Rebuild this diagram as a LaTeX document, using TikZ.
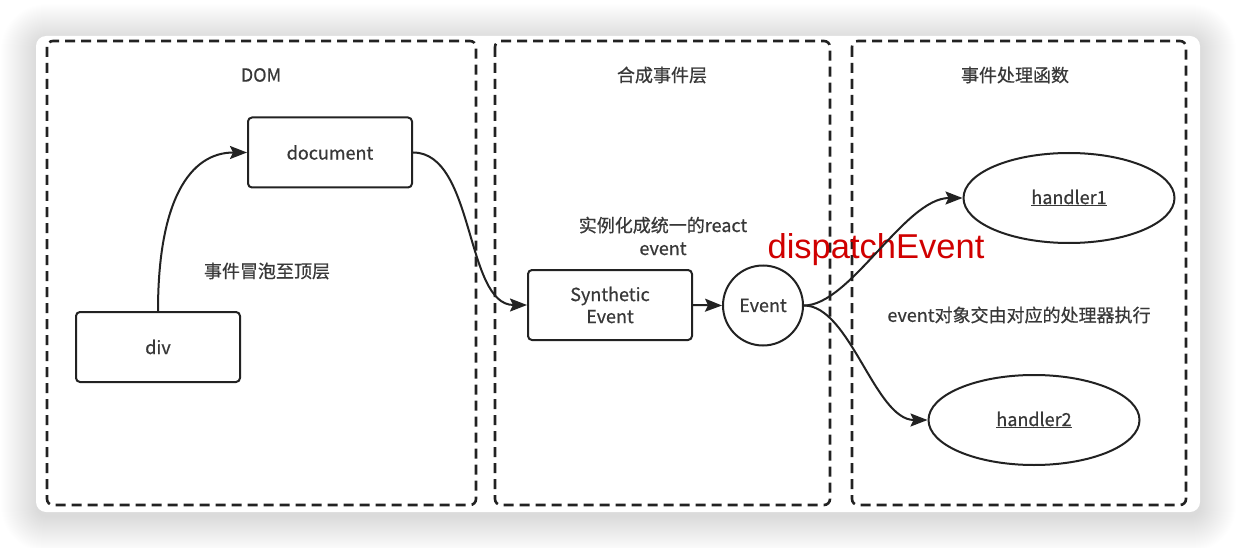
\documentclass[tikz,border=0pt]{standalone}
\usepackage{fontspec}
\setmainfont{Noto Sans CJK SC}[FakeBold=0.6]
\newfontfamily\redfont{Liberation Sans}
\usetikzlibrary{arrows.meta,shapes.geometric}
\definecolor{txt}{HTML}{383838}
\definecolor{ln}{HTML}{222222}
\definecolor{redc}{HTML}{D00000}
\begin{document}
\begin{tikzpicture}[x=1pt,y=-1pt,
  lbl/.style={text=txt,font=\fontsize{18}{23}\selectfont,align=center,inner sep=0pt},
  box/.style={draw=ln,line width=2pt,rounded corners=4pt,minimum width=164pt,minimum height=70pt,
    text=txt,font=\fontsize{18}{22}\selectfont,align=center,inner sep=0pt},
  ell/.style={ellipse,draw=ln,line width=2pt,minimum width=211pt,minimum height=90pt,
    text=txt,font=\fontsize{18}{22}\selectfont,inner sep=0pt},
  circ/.style={circle,draw=ln,line width=2pt,minimum size=80pt,
    text=txt,font=\fontsize{18}{22}\selectfont,inner sep=0pt},
  zone/.style={draw=ln,line width=2.6pt,dash pattern=on 10pt off 6pt,rounded corners=6pt},
  conn/.style={draw=ln,line width=2pt,-{Stealth[length=17pt,width=13pt,inset=3pt]}}]
\useasboundingbox (0,0) rectangle (1236,548);
\fill[white] (0,0) rectangle (1236,548);
% soft shadow of the card
\foreach \i in {1,...,36}{
  \fill[black,fill opacity=0.005,rounded corners={(10+\i)*1pt}]
    ({37-\i},{36-\i+4}) rectangle ({1200+\i},{512+\i+4});
}
\fill[white,rounded corners=10pt] (36,36) rectangle (1200,512);
% zones
\draw[zone] (47,41) rectangle (476,505);
\draw[zone] (495,41) rectangle (830,505);
\draw[zone] (852,41) rectangle (1186,505);
% titles
\node[lbl] (tdom) at (261,75) {DOM};
\node[lbl] (tsyn) at (662,75) {合成事件层};
\node[lbl] (thd) at (1015,75) {事件处理函数};
% nodes
\node[box] (doc) at (330,152.5) {document};
\node[box] (div) at (158,347) {div};
\node[box] (syn) at (610,305) {Synthetic\\Event};
\node[circ] (ev) at (763,305.5) {Event};
\node[ell] (h1) at (1069,198) {\underline{handler1}};
\node[ell] (h2) at (1034,420) {\underline{handler2}};
% labels
\node[lbl] (lbub) at (267,271) {事件冒泡至顶层};
\node[lbl] (lreact) at (663,236) {实例化成统一的react\\event};
\node[lbl] (lexec) at (1019,315) {event对象交由对应的处理器执行};
\node[text=redc,font=\redfont\fontsize{34.5}{40}\selectfont,inner sep=0pt] (disp) at (876,250) {dispatchEvent};
% connectors
\draw[conn] (div.north) .. controls (158,200) and (190,152.5) .. (doc.west);
\draw[conn] (doc.east) .. controls (475,152.5) and (465,305) .. (syn.west);
\draw[conn] (syn.east) -- (ev.west);
\draw[conn] (ev.east) .. controls (850,305.5) and (905,198) .. (h1.west);
\draw[conn] (ev.east) .. controls (850,305.5) and (875,420) .. (h2.west);
\end{tikzpicture}
\end{document}
